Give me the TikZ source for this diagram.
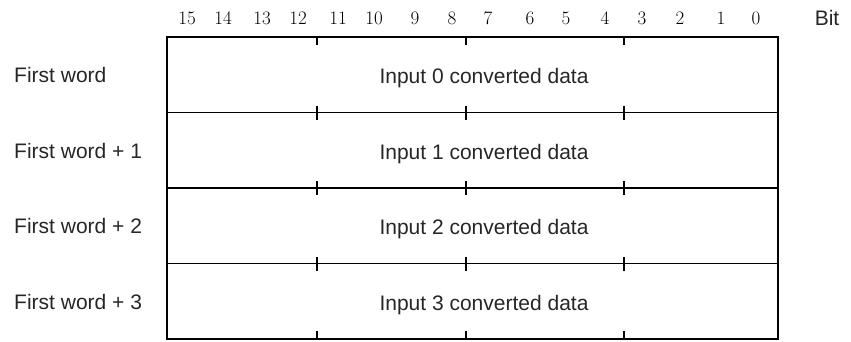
\documentclass[tikz,border=0pt]{standalone}
\usepackage{fontspec}
\setsansfont{Liberation Sans}
\newfontfamily\bitfont{Latin Modern Roman}
\begin{document}
\begin{tikzpicture}[x=1pt,y=-1pt,
  frame/.style={line width=1.5pt},
  lbl/.style={font=\sffamily\fontsize{21}{25}\selectfont, text=black!85, inner sep=0pt},
  bitnum/.style={font=\bitfont\fontsize{19}{22}\selectfont, inner sep=0pt},
]
\useasboundingbox (0,0) rectangle (851,341);
% frame
\coordinate (tl) at (167,37);
\coordinate (br) at (778,339);
\draw[frame] (tl) rectangle (br);
\foreach \y in {112.5,188,263.5}{
  \draw[frame] (167,\y) -- (778,\y);
  \foreach \x in {317,466,624}{
    \draw[frame] (\x,\y-7) -- (\x,\y+7);
  }
}
\foreach \x in {317,466,624}{
  \draw[frame] (\x,37) -- (\x,45);
  \draw[frame] (\x,339) -- (\x,331);
}
% bit numbers
\foreach \b/\x in {15/187,14/223,13/262,12/298,11/338,10/374,9/415,8/452,7/488,6/530,5/566,4/605,3/642,2/680,1/721,0/756}{
  \node[bitnum] (b\b) at (\x,18) {\b};
}
\node[lbl] (bit) at (827,18) {Bit};
% rows
\foreach \i/\yc in {0/74.5,1/150,2/225.5,3/301}{
  \node[lbl, anchor=base] (d\i) at (484,\yc+9) {Input \i\ converted data};
}
\node[lbl, anchor=base west] (w0) at (14,74.5+8) {First word};
\node[lbl, anchor=base west] (w1) at (14,150+8) {First word + 1};
\node[lbl, anchor=base west] (w2) at (14,225.5+8) {First word + 2};
\node[lbl, anchor=base west] (w3) at (14,301+8) {First word + 3};
\end{tikzpicture}
\end{document}
